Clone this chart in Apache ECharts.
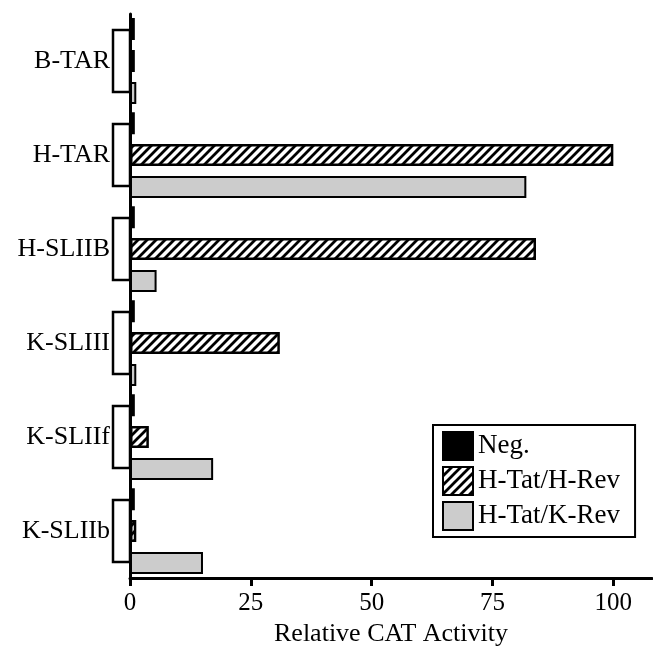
<!DOCTYPE html>
<html>
<head>
<meta charset="utf-8">
<script src="https://cdn.jsdelivr.net/npm/echarts@6/dist/echarts.min.js"></script>
<style>html,body{margin:0;padding:0;background:#fff;}#c{width:653px;height:652px;}</style>
</head>
<body>
<div id="c"></div>
<script>
const categories = ['B-TAR', 'H-TAR', 'H-SLIIB', 'K-SLIII', 'K-SLIIf', 'K-SLIIb'];
const seriesNames = ['Neg.', 'H-Tat/H-Rev', 'H-Tat/K-Rev'];
const negValues = [1.0, 1.0, 1.0, 1.0, 1.0, 1.0];
const hTatHRevValues = [1.0, 100, 84, 31, 3.9, 1.3];
const hTatKRevValues = [1.3, 82, 5.5, 1.3, 17.2, 15.1];
const xTicks = [0, 25, 50, 75, 100];

const FONT = 'Liberation Serif';

function hatch() {
  const s = 9;
  const c = document.createElement('canvas');
  c.width = s; c.height = s;
  const g = c.getContext('2d');
  g.fillStyle = '#fff';
  g.fillRect(0, 0, s, s);
  g.strokeStyle = '#000';
  g.lineWidth = 2.8;
  g.beginPath();
  g.moveTo(-2, s + 2); g.lineTo(s + 2, -2);
  g.moveTo(-2, 2); g.lineTo(2, -2);
  g.moveTo(s - 2, s + 2); g.lineTo(s + 2, s - 2);
  g.stroke();
  return c;
}

const chart = echarts.init(document.getElementById('c'), null, {renderer: 'canvas'});
const barCommon = {
  type: 'bar',
  barWidth: 22,
  barGap: '45%',
  animation: false
};
chart.setOption({
  animation: false,
  backgroundColor: '#fff',
  grid: {left: 130, right: 1, top: 14, bottom: 69, containLabel: false},
  legend: {
    data: seriesNames,
    orient: 'vertical',
    left: 433,
    top: 425,
    itemWidth: 30,
    itemHeight: 28,
    itemGap: 5,
    padding: [6, 15, 6, 9],
    borderColor: '#000',
    borderWidth: 2,
    backgroundColor: '#fff',
    textStyle: {fontFamily: FONT, fontSize: 27, color: '#000', padding: [0, 0, 0, 0]},
    icon: 'rect'
  },
  xAxis: {
    type: 'value',
    min: 0,
    max: 108,
    interval: 25,
    splitLine: {show: false},
    axisLine: {show: true, lineStyle: {color: '#000', width: 3}},
    axisTick: {show: true, length: 8, lineStyle: {color: '#000', width: 3}, customValues: xTicks},
    axisLabel: {fontFamily: FONT, fontSize: 25, color: '#000', margin: 13, customValues: xTicks},
    name: 'Relative CAT Activity',
    nameLocation: 'middle',
    nameGap: 42,
    nameTextStyle: {fontFamily: FONT, fontSize: 26, color: '#000'}
  },
  yAxis: {
    type: 'category',
    data: categories,
    inverse: true,
    axisLine: {show: true, lineStyle: {color: '#000', width: 3}},
    axisTick: {show: false},
    axisLabel: {fontFamily: FONT, fontSize: 26, color: '#000', margin: 20}
  },
  series: [
    {
      type: 'custom',
      name: 'boxes',
      silent: true,
      clip: false,
      z: 1,
      data: categories.map((c, i) => [0, i]),
      encode: {x: 0, y: 1},
      renderItem: function (params, api) {
        const p = api.coord([0, api.value(1)]);
        return {
          type: 'rect',
          shape: {x: p[0] - 17, y: p[1] - 31, width: 17, height: 62},
          style: {fill: '#fff', stroke: '#000', lineWidth: 2.5}
        };
      }
    },
    Object.assign({}, barCommon, {
      name: seriesNames[0], data: negValues, z: 3,
      itemStyle: {color: '#000', borderColor: '#000', borderWidth: 2}
    }),
    Object.assign({}, barCommon, {
      name: seriesNames[1], data: hTatHRevValues, z: 3,
      itemStyle: {color: {image: hatch(), repeat: 'repeat'}, borderColor: '#000', borderWidth: 2.5}
    }),
    Object.assign({}, barCommon, {
      name: seriesNames[2], data: hTatKRevValues, z: 3,
      itemStyle: {color: '#cccccc', borderColor: '#000', borderWidth: 2}
    })
  ]
});
</script>
</body>
</html>
